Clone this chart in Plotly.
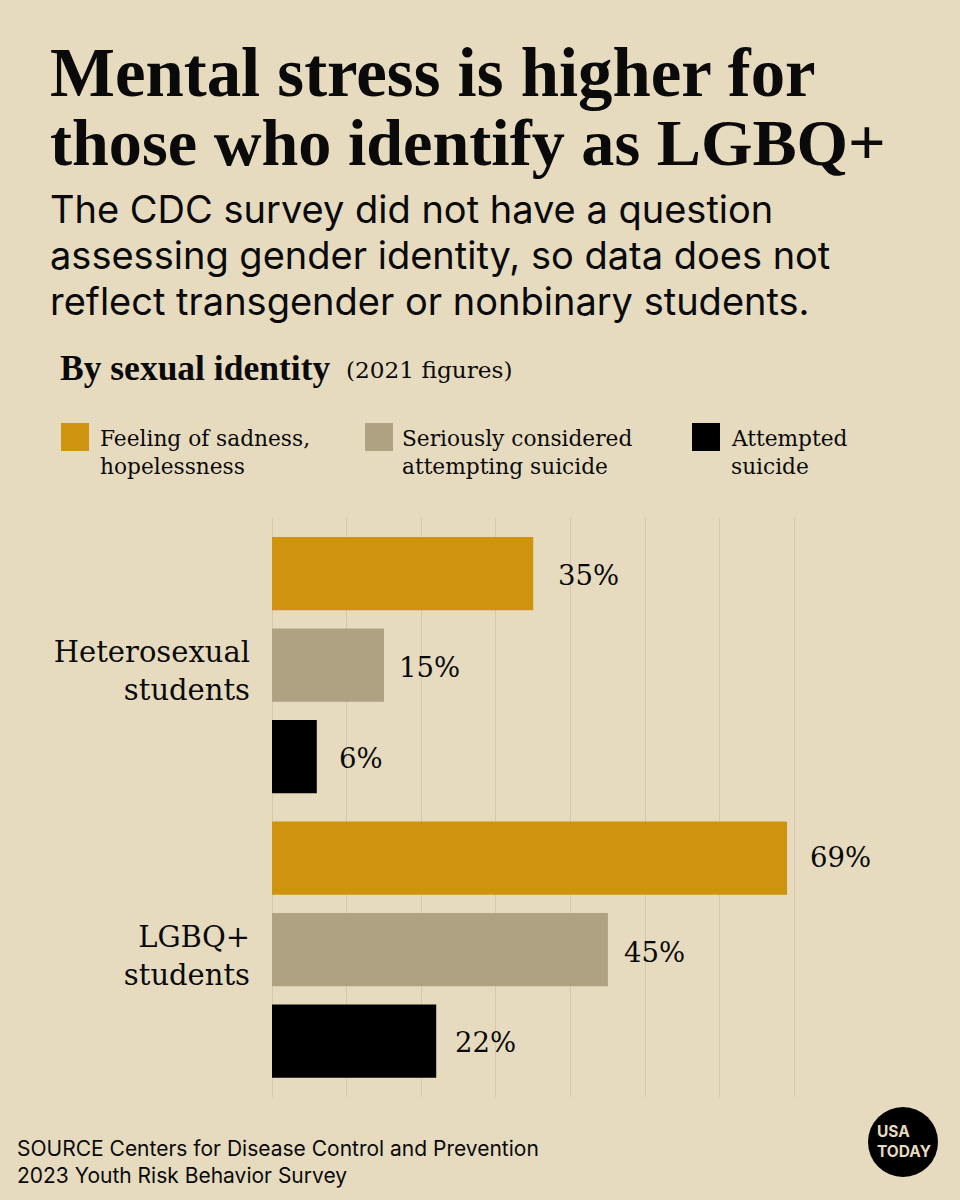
import plotly.graph_objects as go

# values
groups = ["Heterosexual<br>students", "LGBQ+<br>students"]
series_names = ["Feeling of sadness,<br>hopelessness",
                "Seriously considered<br>attempting suicide",
                "Attempted<br>suicide"]
sadness = [35, 69]
considered = [15, 45]
attempted = [6, 22]
series_values = [sadness, considered, attempted]
series_colors = ["#cf940e", "#aea283", "#000000"]
grid_ticks = [0, 10, 20, 30, 40, 50, 60, 70]

title_lines = ["Mental stress is higher for", "those who identify as LGBQ+"]
subtitle_lines = ["The CDC survey did not have a question",
                  "assessing gender identity, so data does not",
                  "reflect transgender or nonbinary students."]
source_text = "SOURCE Centers for Disease Control and Prevention<br>2023 Youth Risk Behavior Survey"

BG = "#e6dbbf"
INK = "#0a0a0a"
SERIF = "Liberation Serif"
SLAB = "DejaVu Serif"
SANS = "Inter"

# plot area in page pixels, the x range runs a bit past 70 so that gridline is kept
L, R, T, B = 272, 802, 518, 1097


def px(x):
    return (x - L) / (R - L)


def py(y):
    return (B - y) / (B - T)


def label(x, y, text, size, font=SERIF, color=INK, anchor="left"):
    return dict(xref="paper", yref="paper", x=px(x - 2), y=py(y), text=text,
                showarrow=False, xanchor=anchor, yanchor="middle", align=anchor,
                font=dict(family=font, size=size, color=color))


fig = go.Figure()
for name, values, color in zip(series_names, series_values, series_colors):
    fig.add_trace(go.Bar(y=groups, x=values, name=name, orientation="h",
                         marker=dict(color=color, line_width=0)))

annotations = []
for y, size, line in zip([73, 143], [68.8, 66.2], title_lines):
    annotations.append(label(50, y, f"<b>{line}</b>", size))
for y, line in zip([209, 255, 301], subtitle_lines):
    annotations.append(label(50, y, line, 38, SANS))
annotations.append(label(60, 368, "<b>By sexual identity</b>", 35.5))
annotations.append(label(346, 370, "(2021 figures)", 23.2, SLAB))

# legend, drawn by hand for the big square swatches
shapes = []
for sx, tx, name, color in zip([61, 365, 692], [100, 402, 731], series_names, series_colors):
    shapes.append(dict(type="rect", xref="paper", yref="paper", x0=px(sx), x1=px(sx + 28),
                       y0=py(423), y1=py(451), fillcolor=color, line_width=0))
    for y, line in zip([438, 467], name.split("<br>")):
        annotations.append(label(tx, y, line, 21.7, SLAB))

# value labels sit a little off the bar ends
gaps = [[23, 21], [13, 14], [20, 17]]
nudge = [[-1, 1], [-2, -2], [-1, -1]]
slot = [-0.3216, 0, 0.3216]
for i, values in enumerate(series_values):
    for j, v in enumerate(values):
        annotations.append(dict(x=v, y=j + slot[i], xref="x", yref="y", text=f"{v}%",
                                showarrow=False, xanchor="left", yanchor="middle",
                                xshift=gaps[i][j], yshift=nudge[i][j],
                                font=dict(family=SLAB, size=27.5, color=INK)))

annotations.append(label(17, 1162, source_text, 21, SANS))

# logo
shapes.append(dict(type="circle", xref="paper", yref="paper", x0=px(868), x1=px(938),
                   y0=py(1177), y1=py(1107), fillcolor="#000000", line_width=0))
annotations.append(label(877, 1141, "<b>USA<br>TODAY</b>", 15.5, "Inter", BG))

fig.update_layout(
    width=960, height=1200,
    margin=dict(l=L, r=960 - R, t=T, b=1200 - B, pad=0),
    paper_bgcolor=BG, plot_bgcolor=BG,
    barmode="group", bargap=0.035, bargroupgap=0.2,
    showlegend=False,
    shapes=shapes, annotations=annotations,
    font=dict(family=SERIF, color=INK),
)
fig.update_xaxes(range=[0, 71], tickmode="array", tickvals=grid_ticks,
                 showticklabels=False, ticks="",
                 showgrid=True, gridcolor="#d3c9ae", gridwidth=1,
                 zeroline=True, zerolinecolor="#d3c9ae", zerolinewidth=1, showline=False)
fig.update_yaxes(range=[1.518, -0.517], type="category", showgrid=False, zeroline=False,
                 ticks="", showline=False, ticklabelstandoff=21, ticklabelshift=-6,
                 tickfont=dict(family=SLAB, size=29, color=INK))

fig.write_html("out.html", config={"displayModeBar": False},
               post_script="document.body.style.margin='0';document.body.style.overflow='hidden';")
